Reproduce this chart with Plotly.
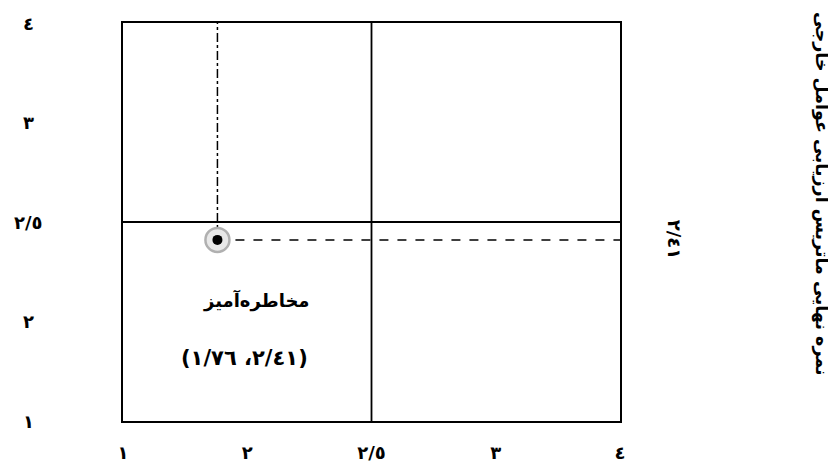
import numpy as np
import plotly.graph_objects as go

# ---- data ----
x_tick_values = [1, 2, 2.5, 3, 4]
x_tick_labels = ["١", "٢", "٢/٥", "٣", "٤"]
y_tick_values = [1, 2, 2.5, 3, 4]
y_tick_labels = ["١", "٢", "٢/٥", "٣", "٤"]
ife_score = 1.76
efe_score = 2.41
quadrant_label = "مخاطره\u200cآمیز"
point_label = "(٢/٤١، ١/٧٦)"
efe_label = "٢/٤١"
y_title = "نمره نهایی ماتریس ارزیابی عوامل خارجی"
mid_value = 2.5

# schematic scale: tick values equally spaced
def xs(v):
    return float(np.interp(v, x_tick_values, range(len(x_tick_values))))

def ys(v):
    return float(np.interp(v, y_tick_values, range(len(y_tick_values))))

FONT = "DejaVu Sans"
px, py = xs(ife_score), ys(efe_score)
xmax, ymax = xs(max(x_tick_values)), ys(max(y_tick_values))

fig = go.Figure()
fig.add_trace(go.Scatter(x=[px, px], y=[py, ymax], mode="lines",
                         line=dict(color="black", width=1.5, dash="dashdot"),
                         hoverinfo="skip", showlegend=False))
fig.add_trace(go.Scatter(x=[px, xmax], y=[py, py], mode="lines",
                         line=dict(color="black", width=1.5, dash="dash"),
                         hoverinfo="skip", showlegend=False))
fig.add_trace(go.Scatter(x=[px], y=[py], mode="markers",
                         marker=dict(size=24, color="#e8e8e8",
                                     line=dict(color="#b0b0b0", width=2.5)),
                         showlegend=False))
fig.add_trace(go.Scatter(x=[px], y=[py], mode="markers",
                         marker=dict(size=10, color="black"),
                         showlegend=False))

fig.add_shape(type="line", x0=xs(mid_value), x1=xs(mid_value), y0=0, y1=ymax,
              xref="x", yref="y", line=dict(color="black", width=1.8))
fig.add_shape(type="line", x0=0, x1=xmax, y0=ys(mid_value), y1=ys(mid_value),
              xref="x", yref="y", line=dict(color="black", width=1.8))

for v, t in zip(y_tick_values, y_tick_labels):
    fig.add_annotation(x=-0.19, xref="paper", y=ys(v), yref="y", text=t,
                       showarrow=False, xanchor="center", yanchor="middle",
                       font=dict(family=FONT, size=18, color="black", weight="bold"))

fig.add_annotation(x=0.269, y=0.303, xref="paper", yref="paper", text=quadrant_label,
                   showarrow=False, xanchor="center", yanchor="middle",
                   font=dict(family=FONT, size=18, color="black", weight="bold"))
fig.add_annotation(x=0.245, y=0.158, xref="paper", yref="paper", text=point_label,
                   showarrow=False, xanchor="center", yanchor="middle",
                   font=dict(family=FONT, size=21, color="black", weight="bold"))
fig.add_annotation(x=1.109, xref="paper", y=py, yref="y", text=efe_label, textangle=90,
                   showarrow=False, xanchor="center", yanchor="middle",
                   font=dict(family=FONT, size=18, color="black", weight="bold"))
fig.add_annotation(x=1.404, xref="paper", y=0.571, yref="paper", text=y_title, textangle=90,
                   showarrow=False, xanchor="center", yanchor="middle",
                   font=dict(family=FONT, size=17.5, color="black", weight="bold"))

fig.update_xaxes(range=[0, xmax], tickvals=list(range(len(x_tick_values))),
                 ticktext=x_tick_labels, showgrid=False, zeroline=False,
                 showline=True, mirror=True, linecolor="black", linewidth=2.2,
                 ticks="", ticklabelstandoff=14,
                 tickfont=dict(family=FONT, size=18, color="black", weight="bold"))
fig.update_yaxes(range=[0, ymax], showgrid=False, zeroline=False,
                 showline=True, mirror=True, linecolor="black", linewidth=2.2,
                 showticklabels=False, ticks="")
fig.update_layout(width=836, height=467, plot_bgcolor="white", paper_bgcolor="white",
                  margin=dict(l=115, r=224, t=15, b=42), showlegend=False)
fig.write_html("out.html")
